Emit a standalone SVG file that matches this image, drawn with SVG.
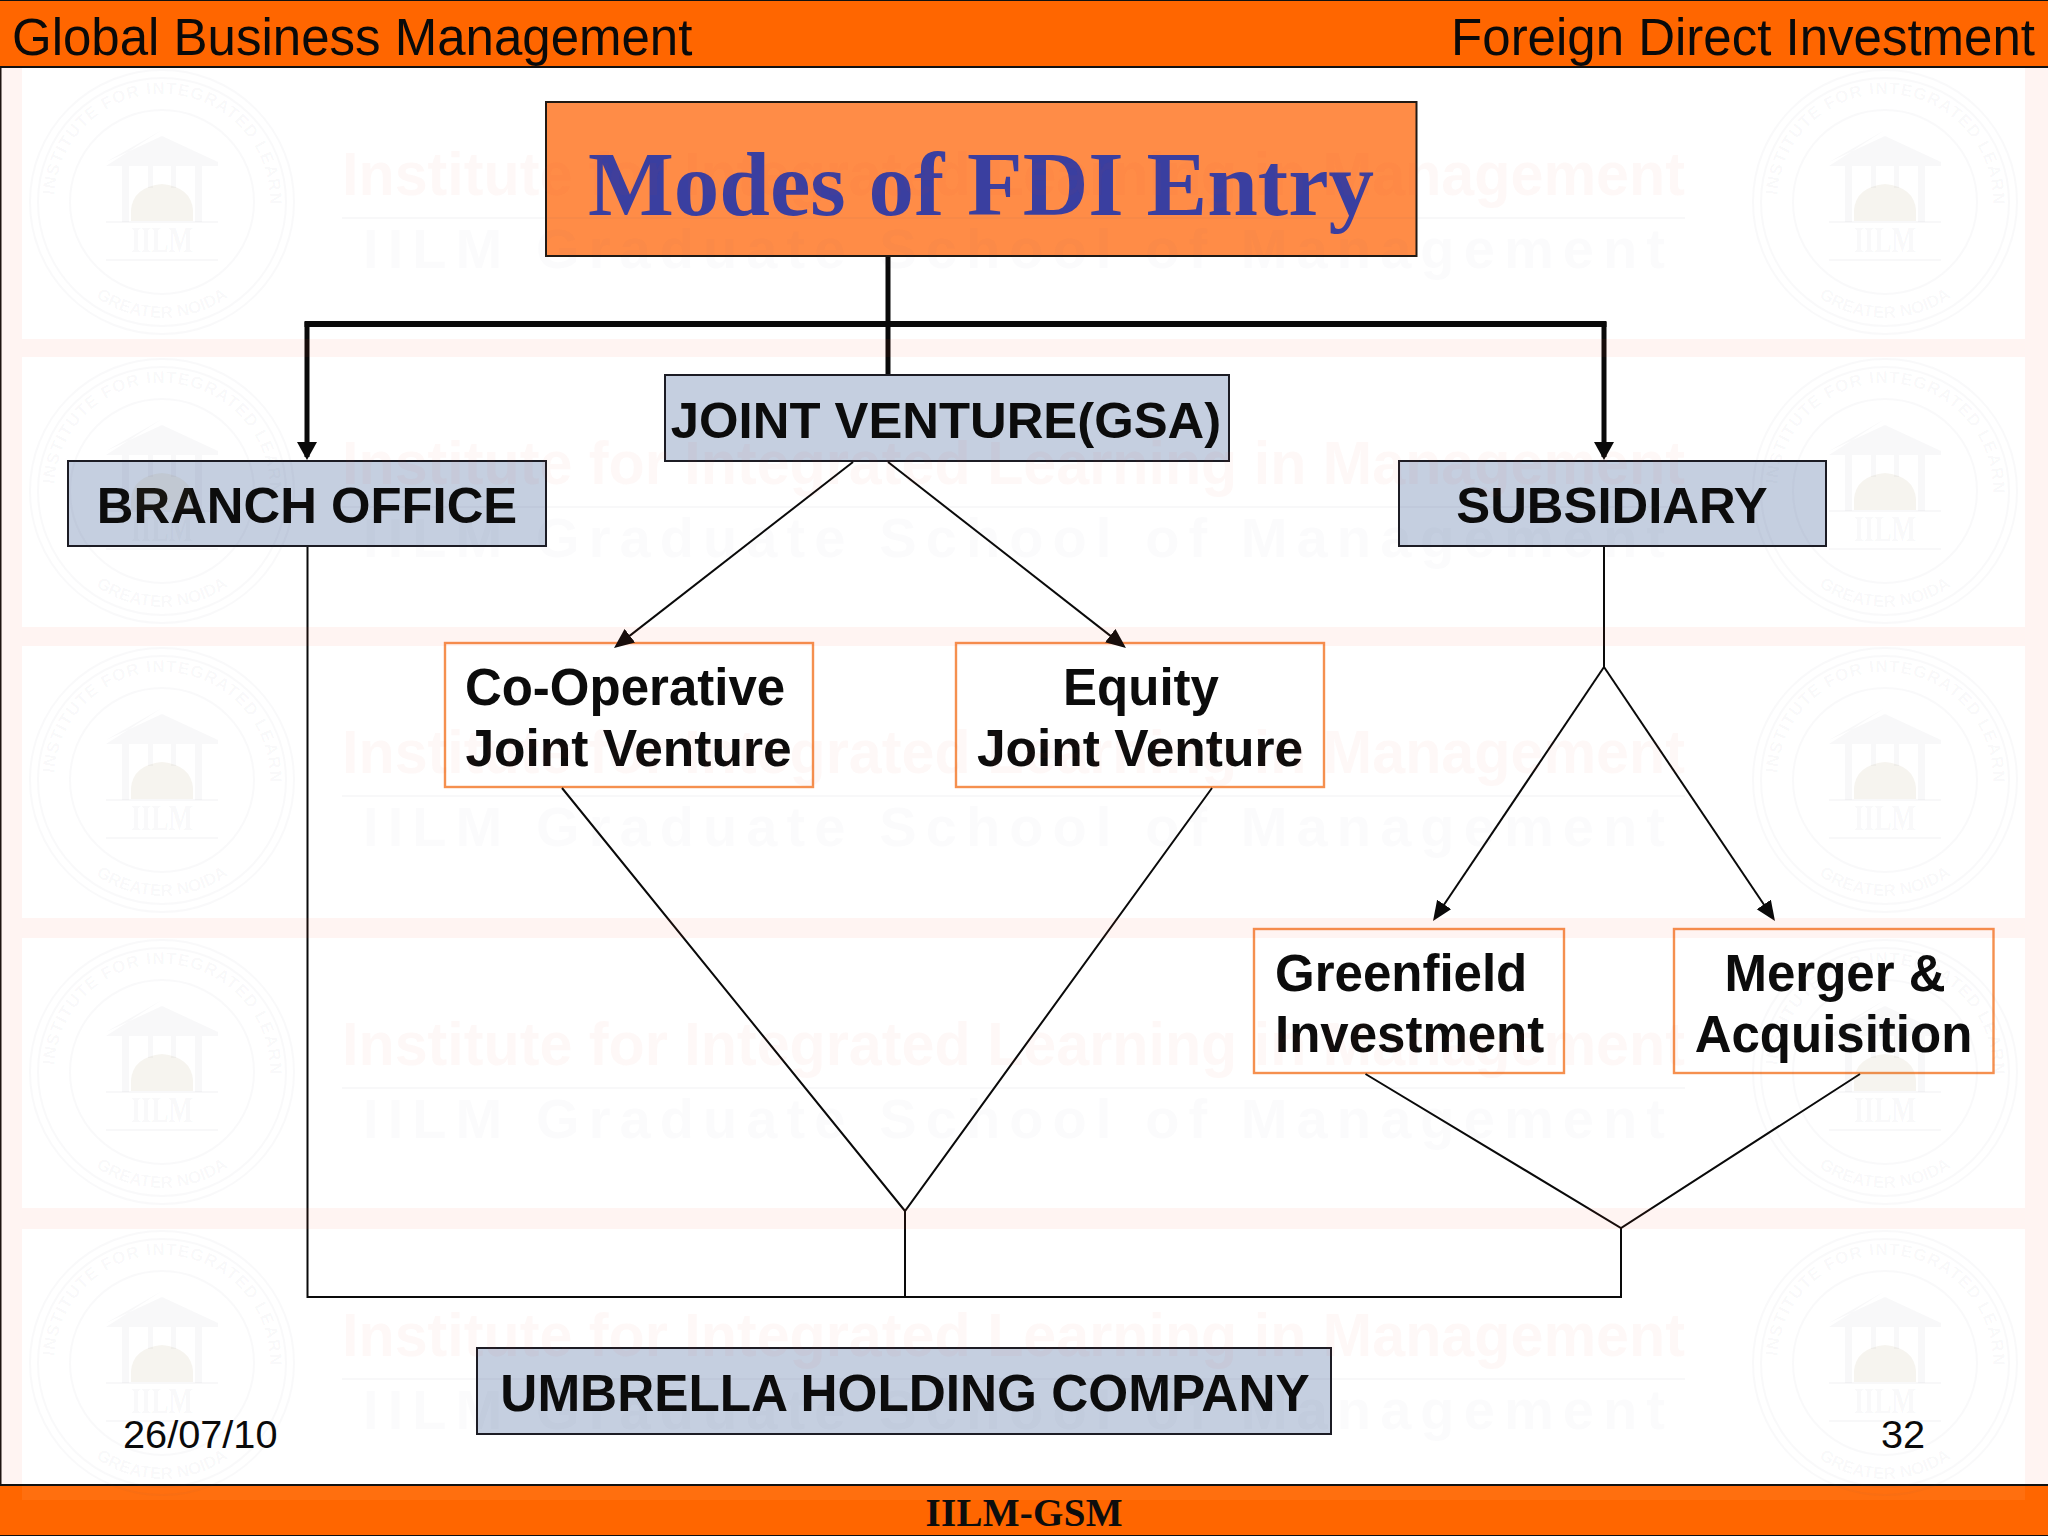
<svg xmlns="http://www.w3.org/2000/svg" width="2048" height="1536" viewBox="0 0 2048 1536">
<style>
.sans{font-family:"Liberation Sans",Arial,sans-serif}
.serif{font-family:"Liberation Serif","Times New Roman",serif}
.band{fill:#ff6600}
.edge{fill:#111}
.head{font-size:51px;fill:#0a0a0a}
.foot{font-size:39px;fill:#0d0d0d}
.blue rect{fill:#c5cfe0;stroke:#1c1c24;stroke-width:2}
.blue text{font-size:50.8px;font-weight:700;fill:#0c0c0c;text-anchor:middle}
.white rect{fill:#fff;stroke:#f5904f;stroke-width:2.4}
.white text{font-size:51px;font-weight:700;fill:#0c0c0c;text-anchor:middle}
.thin{fill:none;stroke:#0a0a0a;stroke-width:2}
.heavy{fill:none;stroke:#0a0a0a;stroke-width:5}
.wl{font-size:62px;font-weight:700;fill:#e8582a;fill-opacity:.04}
.ws{font-size:56px;font-weight:700;fill:#505070;fill-opacity:.025}
.wr{stroke:#505070;stroke-opacity:.035;stroke-width:2;fill:none}
.wf{fill:#505070;fill-opacity:.04}
.wd{fill:#a08050;fill-opacity:.09}
.wt{font-size:17px;font-weight:700;fill:#505070;fill-opacity:.04}
.wi{font-size:36px;font-weight:700;fill:#505070;fill-opacity:.05;text-anchor:middle}
.pink{fill:#ff4020;fill-opacity:.06}
</style>
<defs>
<marker id="a" markerUnits="userSpaceOnUse" markerWidth="22" markerHeight="18" refX="17" refY="8.5" orient="auto"><polygon points="0,0 20,8.5 0,17" fill="#0a0a0a"/></marker>
<marker id="b" markerUnits="userSpaceOnUse" markerWidth="20" markerHeight="22" refX="15" refY="10" orient="auto"><polygon points="0,0 18,10 0,20" fill="#0a0a0a"/></marker>
<path id="ring" d="M-108,0A108,108 0 1 1 108,0"/>
<path id="ringb" d="M-116,0A116,116 0 0 0 116,0"/>
<g id="logo">
<circle class="wr" r="132"/>
<circle class="wr" r="124"/>
<circle class="wr" r="92"/>
<text class="sans wt" letter-spacing="1"><textPath href="#ring" startOffset="2%">INSTITUTE FOR INTEGRATED LEARNING</textPath></text>
<text class="sans wt" text-anchor="middle"><textPath href="#ringb" startOffset="50%">GREATER NOIDA</textPath></text>
<polygon class="wf" points="0,-72 -56,-36 56,-36 56,-40 0,-66 -56,-40"/>
<rect class="wf" x="-40" y="-36" width="7" height="56"/>
<rect class="wf" x="33" y="-36" width="7" height="56"/>
<rect class="wf" x="-14" y="-36" width="5" height="22"/>
<rect class="wf" x="9" y="-36" width="5" height="22"/>
<path class="wd" d="M-31,19V8Q-29,-15 0,-18Q29,-15 31,8V19Z"/>
<rect class="wf" x="-56" y="19" width="112" height="2"/>
<text class="serif wi" y="50" textLength="62" lengthAdjust="spacingAndGlyphs">IILM</text>
<rect class="wf" x="-56" y="57" width="112" height="2"/>
</g>
<g id="tile">
<text class="sans wl" x="342" y="127" textLength="1343" lengthAdjust="spacingAndGlyphs">Institute for Integrated Learning in Management</text>
<rect class="wf" x="342" y="149" width="1343" height="2"/>
<text class="sans ws" x="363" y="200" textLength="1302">IILM Graduate School of Management</text>
<use href="#logo" x="162" y="134"/>
<use href="#logo" x="1885" y="134"/>
</g>
</defs>
<rect width="2048" height="1536" fill="#fff"/>
<g id="header">
<rect class="band" width="2048" height="67"/>
<rect class="edge" width="2048" height="1"/>
<rect class="edge" y="66" width="2048" height="2"/>
<rect class="edge" y="68" width="1.5" height="1416"/>
<text class="sans head" x="12" y="55">Global Business Management</text>
<text class="sans head" x="2035" y="55" text-anchor="end">Foreign Direct Investment</text>
</g>
<g id="footer">
<rect class="band" y="1485" width="2048" height="51"/>
<rect class="edge" y="1484" width="2048" height="2"/>
<rect class="edge" y="1535" width="2048" height="1"/>
<text class="serif foot" x="1024" y="1526" text-anchor="middle" font-weight="700" textLength="197">IILM-GSM</text>
</g>
<g id="date"><text class="sans" x="123" y="1448" font-size="39.7" fill="#0a0a0a">26/07/10</text></g>
<g id="page"><text class="sans" x="1881" y="1448" font-size="39.7" fill="#0a0a0a">32</text></g>
<g id="title">
<rect x="546" y="102" width="870.5" height="154" fill="#ff8c47" stroke="#221a14" stroke-width="2"/>
<text class="serif" x="981" y="215" font-size="91" font-weight="700" fill="#3a3fa0" text-anchor="middle">Modes of FDI Entry</text>
</g>
<g id="joint-venture" class="blue"><rect x="665" y="375" width="564" height="86"/><text class="sans" x="946" y="438">JOINT VENTURE(GSA)</text></g>
<g id="branch-office" class="blue"><rect x="68" y="461" width="478" height="85"/><text class="sans" x="307" y="523">BRANCH OFFICE</text></g>
<g id="subsidiary" class="blue"><rect x="1399" y="461" width="427" height="85"/><text class="sans" x="1612" y="523">SUBSIDIARY</text></g>
<g id="umbrella" class="blue"><rect x="477" y="1348" width="854" height="86"/><text class="sans" x="905" y="1411" style="font-size:51.3px">UMBRELLA HOLDING COMPANY</text></g>
<g id="co-operative" class="white"><rect x="445" y="643" width="368" height="144"/><text class="sans" x="625" y="705">Co-Operative</text><text class="sans" x="628.5" y="766" style="font-size:51.5px">Joint Venture</text></g>
<g id="equity" class="white"><rect x="956" y="643" width="368" height="144"/><text class="sans" x="1141" y="705">Equity</text><text class="sans" x="1140" y="766" style="font-size:51.5px">Joint Venture</text></g>
<g id="greenfield" class="white"><rect x="1254" y="929" width="310" height="144"/><text class="sans" x="1275" y="991" style="text-anchor:start">Greenfield</text><text class="sans" x="1275" y="1052" style="text-anchor:start">Investment</text></g>
<g id="merger" class="white"><rect x="1674" y="929" width="319.5" height="144"/><text class="sans" x="1835" y="991">Merger &amp;</text><text class="sans" x="1833.5" y="1052">Acquisition</text></g>
<g id="connectors">
<path class="heavy" d="M888,257V374"/>
<path class="heavy" style="stroke-width:6" d="M304.5,324H1606.5"/>
<path class="heavy" marker-end="url(#b)" d="M307,322V457"/>
<path class="heavy" marker-end="url(#b)" d="M1604,322V457"/>
<path class="thin" marker-end="url(#a)" d="M853,462L616.4,646.1"/>
<path class="thin" marker-end="url(#a)" d="M888,462L1123.6,646.1"/>
<path class="thin" d="M1604,547V667"/>
<path class="thin" marker-end="url(#a)" d="M1604,667L1434.7,918.5"/>
<path class="thin" marker-end="url(#a)" d="M1604,667L1773.3,918.5"/>
<path class="thin" d="M562,788L905,1211L1212,788"/>
<path class="thin" d="M1365.5,1074L1621,1228L1860,1074"/>
<path class="thin" d="M905,1211V1297"/>
<path class="thin" d="M1621,1228V1297H307.5V547"/>
</g>
<g id="watermark">
<path class="pink" d="M0,68H22V339H2025V68H2048V1484H2025V1229H22V1484H0ZM22,357V627H2025V357ZM22,646V918H2025V646ZM22,938V1208H2025V938Z"/>
<rect x="22" y="1486" width="2003" height="14" fill="#fff" fill-opacity=".06"/>
<use href="#tile" y="68"/>
<use href="#tile" y="357"/>
<use href="#tile" y="646"/>
<use href="#tile" y="938"/>
<use href="#tile" y="1229"/>
</g>
</svg>
